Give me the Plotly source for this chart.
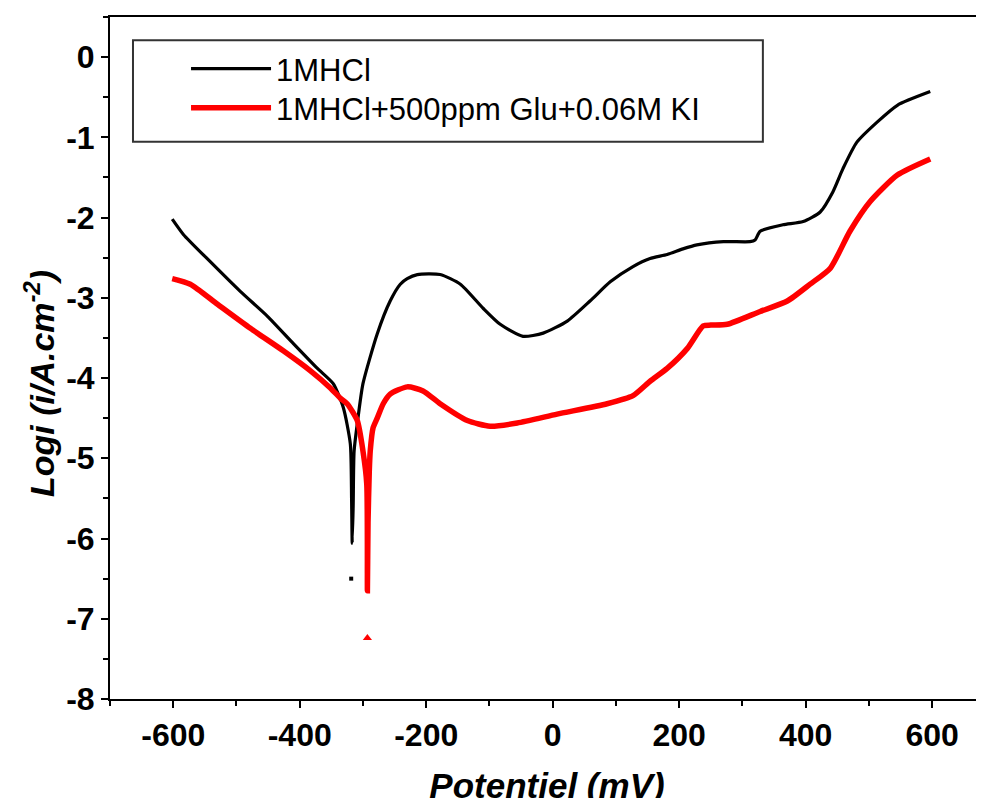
import plotly.graph_objects as go

# 1MHCl (black) - potential (mV), log i
hcl_x = [-601.6, -584, -541.5, -494, -451, -410, -372, -347, -331, -320, -318, -317,
         -315.5, -314, -309, -300, -277.5, -257, -241, -230, -214, -178, -146, -110,
         -83, -47, -15, 23, 59, 91, 127, 154, 181, 206, 228, 270, 312, 320, 328, 364,
         396, 423, 443, 459, 481, 513, 545, 597]
hcl_y = [-2.02, -2.21, -2.55, -2.92, -3.23, -3.57, -3.88, -4.07, -4.37, -4.82, -5.5, -6.06,
         -5.6, -4.91, -4.57, -4.07, -3.45, -3.04, -2.83, -2.76, -2.71, -2.71, -2.83, -3.13,
         -3.33, -3.48, -3.44, -3.29, -3.04, -2.80, -2.61, -2.51, -2.46, -2.39, -2.34, -2.30,
         -2.30, -2.28, -2.17, -2.09, -2.05, -1.93, -1.68, -1.39, -1.06, -0.81, -0.60, -0.43]
hcl_iso_x = [-318.6]
hcl_iso_y = [-6.5]

# 1MHCl + 500ppm Glu + 0.06M KI (red)
inh_x = [-601.6, -573, -530, -478, -426, -383, -352, -336, -325, -309, -300, -294, -293,
         -292, -290, -288.5, -284, -277.5, -268, -257, -230, -205, -178, -135, -99, -56,
         7, 86, 127, 154, 181, 213, 238, 250, 276, 328, 371, 407, 439, 470, 502, 545, 597]
inh_y = [-2.76, -2.83, -3.08, -3.38, -3.66, -3.91, -4.12, -4.25, -4.32, -4.53, -4.91, -5.32,
         -6.65, -5.8, -5.16, -4.91, -4.62, -4.50, -4.32, -4.20, -4.11, -4.16, -4.32, -4.53,
         -4.60, -4.56, -4.45, -4.32, -4.22, -4.04, -3.88, -3.63, -3.35, -3.34, -3.33, -3.17,
         -3.04, -2.83, -2.63, -2.17, -1.80, -1.47, -1.27]
inh_iso_x = [-293]
inh_iso_y = [-7.24]

x_ticks = [-600, -400, -200, 0, 200, 400, 600]
x_ticktext = ["-600", "-400", "-200", "0", "200", "400", "600"]
y_ticks = [0, -1, -2, -3, -4, -5, -6, -7, -8]
y_ticktext = ["0", "-1", "-2", "-3", "-4", "-5", "-6", "-7", "-8"]

FONT = "Liberation Sans, Arial, sans-serif"

fig = go.Figure()
fig.add_trace(go.Scatter(x=hcl_x, y=hcl_y, mode="lines", name="1MHCl", legend="legend",
                         line=dict(color="black", width=3.2, shape="spline", smoothing=0.6)))
fig.add_trace(go.Scatter(x=hcl_iso_x, y=hcl_iso_y, mode="markers", showlegend=False,
                         marker=dict(color="black", size=4, symbol="square")))
fig.add_trace(go.Scatter(x=inh_x, y=inh_y, mode="lines", name="1MHCl+500ppm Glu+0.06M KI",
                         legend="legend2",
                         line=dict(color="red", width=5.5, shape="spline", smoothing=0.6)))
fig.add_trace(go.Scatter(x=inh_iso_x, y=inh_iso_y, mode="markers", showlegend=False,
                         marker=dict(color="red", size=8, symbol="triangle-up")))

leg_common = dict(x=0.087, xanchor="left", yanchor="top",
                  bgcolor="rgba(255,255,255,0)", borderwidth=0,
                  font=dict(family=FONT, size=31, color="black"), itemwidth=80)

fig.update_layout(
    width=984, height=798,
    margin=dict(l=102, r=8, t=7, b=107),
    paper_bgcolor="white", plot_bgcolor="white",
    font=dict(family=FONT, color="black"),
    showlegend=True,
    legend=dict(y=0.9635, **leg_common),
    legend2=dict(y=0.906, **leg_common),
    shapes=[dict(type="rect", xref="paper", yref="paper", x0=0.0263, x1=0.747,
                 y0=0.817, y1=0.966, line=dict(color="#333333", width=2),
                 fillcolor="rgba(0,0,0,0)", layer="above")],
    annotations=[dict(text="Logi (i/A.cm<sup>-2</sup>)", xref="paper", yref="paper",
                      x=-0.080, y=0.462, textangle=-90, showarrow=False,
                      xanchor="center", yanchor="middle",
                      font=dict(family=FONT, size=34, weight="bold", style="italic", color="black"))],
    xaxis=dict(range=[-700, 682], tickvals=x_ticks, ticktext=x_ticktext, ticks="outside",
               ticklen=7, tickwidth=2,
               tickcolor="black", showline=True, linecolor="black", linewidth=2, mirror=True,
               showgrid=False, zeroline=False,
               tickfont=dict(family=FONT, size=32, weight="bold"),
               minor=dict(dtick=100, ticks="outside", ticklen=5, tickwidth=2, tickcolor="black", tick0=-700),
               title=dict(text="Potentiel (mV)", standoff=21,
                          font=dict(family=FONT, size=35, weight="bold", style="italic"))),
    yaxis=dict(range=[-8, 0.5], tickvals=y_ticks, ticktext=y_ticktext, ticks="outside",
               ticklen=7, tickwidth=2,
               tickcolor="black", showline=True, linecolor="black", linewidth=2, mirror=False,
               showgrid=False, zeroline=False,
               tickfont=dict(family=FONT, size=32, weight="bold"),
               minor=dict(dtick=0.5, ticks="outside", ticklen=5, tickwidth=2, tickcolor="black", tick0=0)),
)

fig.write_html("out.html")
